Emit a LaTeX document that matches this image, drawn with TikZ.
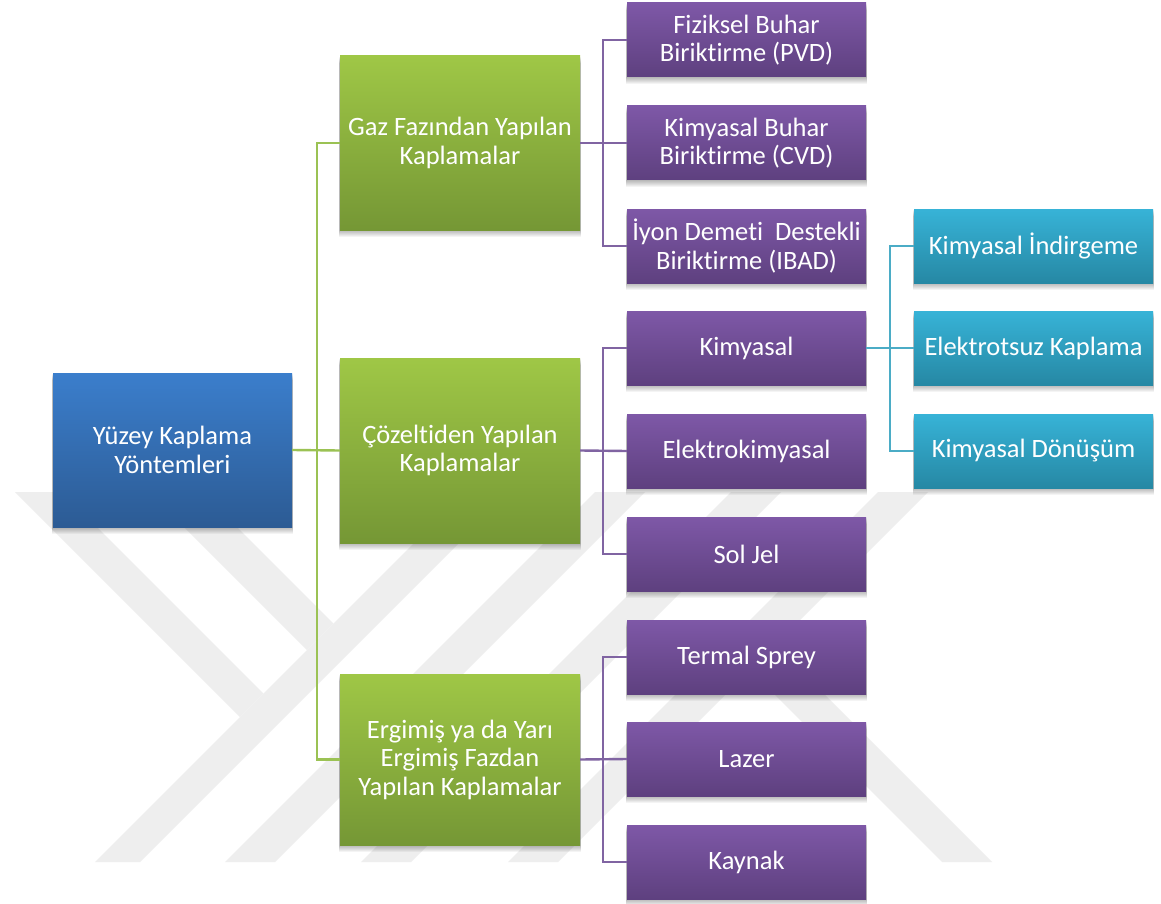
\documentclass[tikz,border=0pt]{standalone}
\usepackage{fontspec}
\setmainfont{Carlito}[Ligatures={NoCommon}]
\pgfdeclarelayer{wmlayer}
\pgfdeclarelayer{shlayer}
\pgfsetlayers{wmlayer,shlayer,main}
\definecolor{wmgray}{RGB}{238,238,238}
\definecolor{blueT}{RGB}{59,126,204}
\definecolor{blueB}{RGB}{44,91,148}
\definecolor{greenT}{RGB}{159,199,70}
\definecolor{greenB}{RGB}{117,151,53}
\definecolor{purpT}{RGB}{126,88,167}
\definecolor{purpB}{RGB}{94,64,127}
\definecolor{tealT}{RGB}{55,179,215}
\definecolor{tealB}{RGB}{38,136,164}
\definecolor{glinecol}{RGB}{155,194,84}
\definecolor{plinecol}{RGB}{128,100,162}
\definecolor{tlinecol}{RGB}{75,172,198}
\tikzset{
  basebox/.style={rectangle, inner sep=0pt, text=white, align=center,
    font=\fontsize{26.5}{28.5}\selectfont},
  bluebox/.style={basebox, minimum width=239pt, minimum height=154pt,
    top color=blueT, bottom color=blueB},
  greenbox/.style={basebox, minimum width=240pt,
    top color=greenT, bottom color=greenB},
  purpbox/.style={basebox, minimum width=239pt, minimum height=74pt,
    top color=purpT, bottom color=purpB},
  tealbox/.style={basebox, minimum width=239pt, minimum height=74pt,
    top color=tealT, bottom color=tealB},
  gconn/.style={draw=glinecol, line width=2.4pt},
  pconn/.style={draw=plinecol, line width=2.4pt},
  tconn/.style={draw=tlinecol, line width=2.4pt},
}
\begin{document}
\begin{tikzpicture}[x=1pt,y=-1pt]
\useasboundingbox (0,0) rectangle (1161,904);

% watermark
\begin{pgfonlayer}{wmlayer}
\fill[white] (0,0) rectangle (1161,904);
\fill[wmgray] (15,492) -- (62,492) -- (263.5,693.5) -- (240,717) -- cycle;
\fill[wmgray] (149,492) -- (202,492) -- (333.5,623.5) -- (307,650) -- cycle;
\fill[wmgray] (465,492) -- (510,492) -- (140,862) -- (95,862) -- cycle;
\fill[wmgray] (595,492) -- (645,492) -- (275,862) -- (225,862) -- cycle;
\fill[wmgray] (731,492) -- (781,492) -- (411,862) -- (361,862) -- cycle;
\fill[wmgray] (878,492) -- (928,492) -- (558,862) -- (508,862) -- cycle;
\fill[wmgray] (775,645) -- (992,862) -- (942,862) -- (750,670) -- cycle;
\end{pgfonlayer}

% level 0 and 1
\node[bluebox] (yuzey) at (172.5,450) {Yüzey Kaplama\\Yöntemleri};
\node[greenbox, minimum height=174pt] (gaz) at (460,143) {Gaz Fazından Yapılan\\Kaplamalar};
\node[greenbox, minimum height=185pt] (coz) at (460,450.5) {Çözeltiden Yapılan\\Kaplamalar};
\node[greenbox, minimum height=171pt] (erg) at (460,759.5) {Ergimiş ya da Yarı\\Ergimiş Fazdan\\Yapılan Kaplamalar};

% level 2
\node[purpbox] (pvd) at (746.5,40) {Fiziksel Buhar\\Biriktirme (PVD)};
\node[purpbox] (cvd) at (746.5,143) {Kimyasal Buhar\\Biriktirme (CVD)};
\node[purpbox] (ibad) at (746.5,246) {İyon Demeti\ \ Destekli\\Biriktirme (IBAD)};
\node[purpbox] (kim) at (746.5,348) {Kimyasal};
\node[purpbox] (elk) at (746.5,451) {Elektrokimyasal};
\node[purpbox] (sol) at (746.5,554) {Sol Jel};
\node[purpbox] (ter) at (746.5,657) {Termal Sprey};
\node[purpbox] (laz) at (746.5,759) {Lazer};
\node[purpbox] (kay) at (746.5,862) {Kaynak};

% level 3
\node[tealbox] (ind) at (1033.5,246) {Kimyasal İndirgeme};
\node[tealbox] (ets) at (1033.5,348) {Elektrotsuz Kaplama};
\node[tealbox] (don) at (1033.5,451) {Kimyasal Dönüşüm};

% shadows
\begin{pgfonlayer}{shlayer}
\foreach \n in {yuzey,gaz,coz,erg,pvd,cvd,ibad,kim,elk,sol,ter,laz,kay,ind,ets,don}{
  \foreach \k in {1,...,7}{
    \fill[black,opacity=0.045] ([xshift=-1pt,yshift=-\k pt]\n.south west) rectangle ([xshift=1pt,yshift=-\k pt]\n.north east);
  }
}
\end{pgfonlayer}

% connectors
\draw[gconn] (yuzey.east) -- (coz.west);
\draw[gconn] (gaz.west) -- ++(-23,0) |- (erg.west);
\draw[pconn] (gaz.east) -- (cvd.west);
\draw[pconn] (pvd.west) -- ++(-24,0) |- (ibad.west);
\draw[pconn] (coz.east) -- (elk.west);
\draw[pconn] (kim.west) -- ++(-24,0) |- (sol.west);
\draw[pconn] (erg.east) -- (laz.west);
\draw[pconn] (ter.west) -- ++(-24,0) |- (kay.west);
\draw[tconn] (kim.east) -- (ets.west);
\draw[tconn] (ind.west) -- ++(-24,0) |- (don.west);
\end{tikzpicture}
\end{document}
